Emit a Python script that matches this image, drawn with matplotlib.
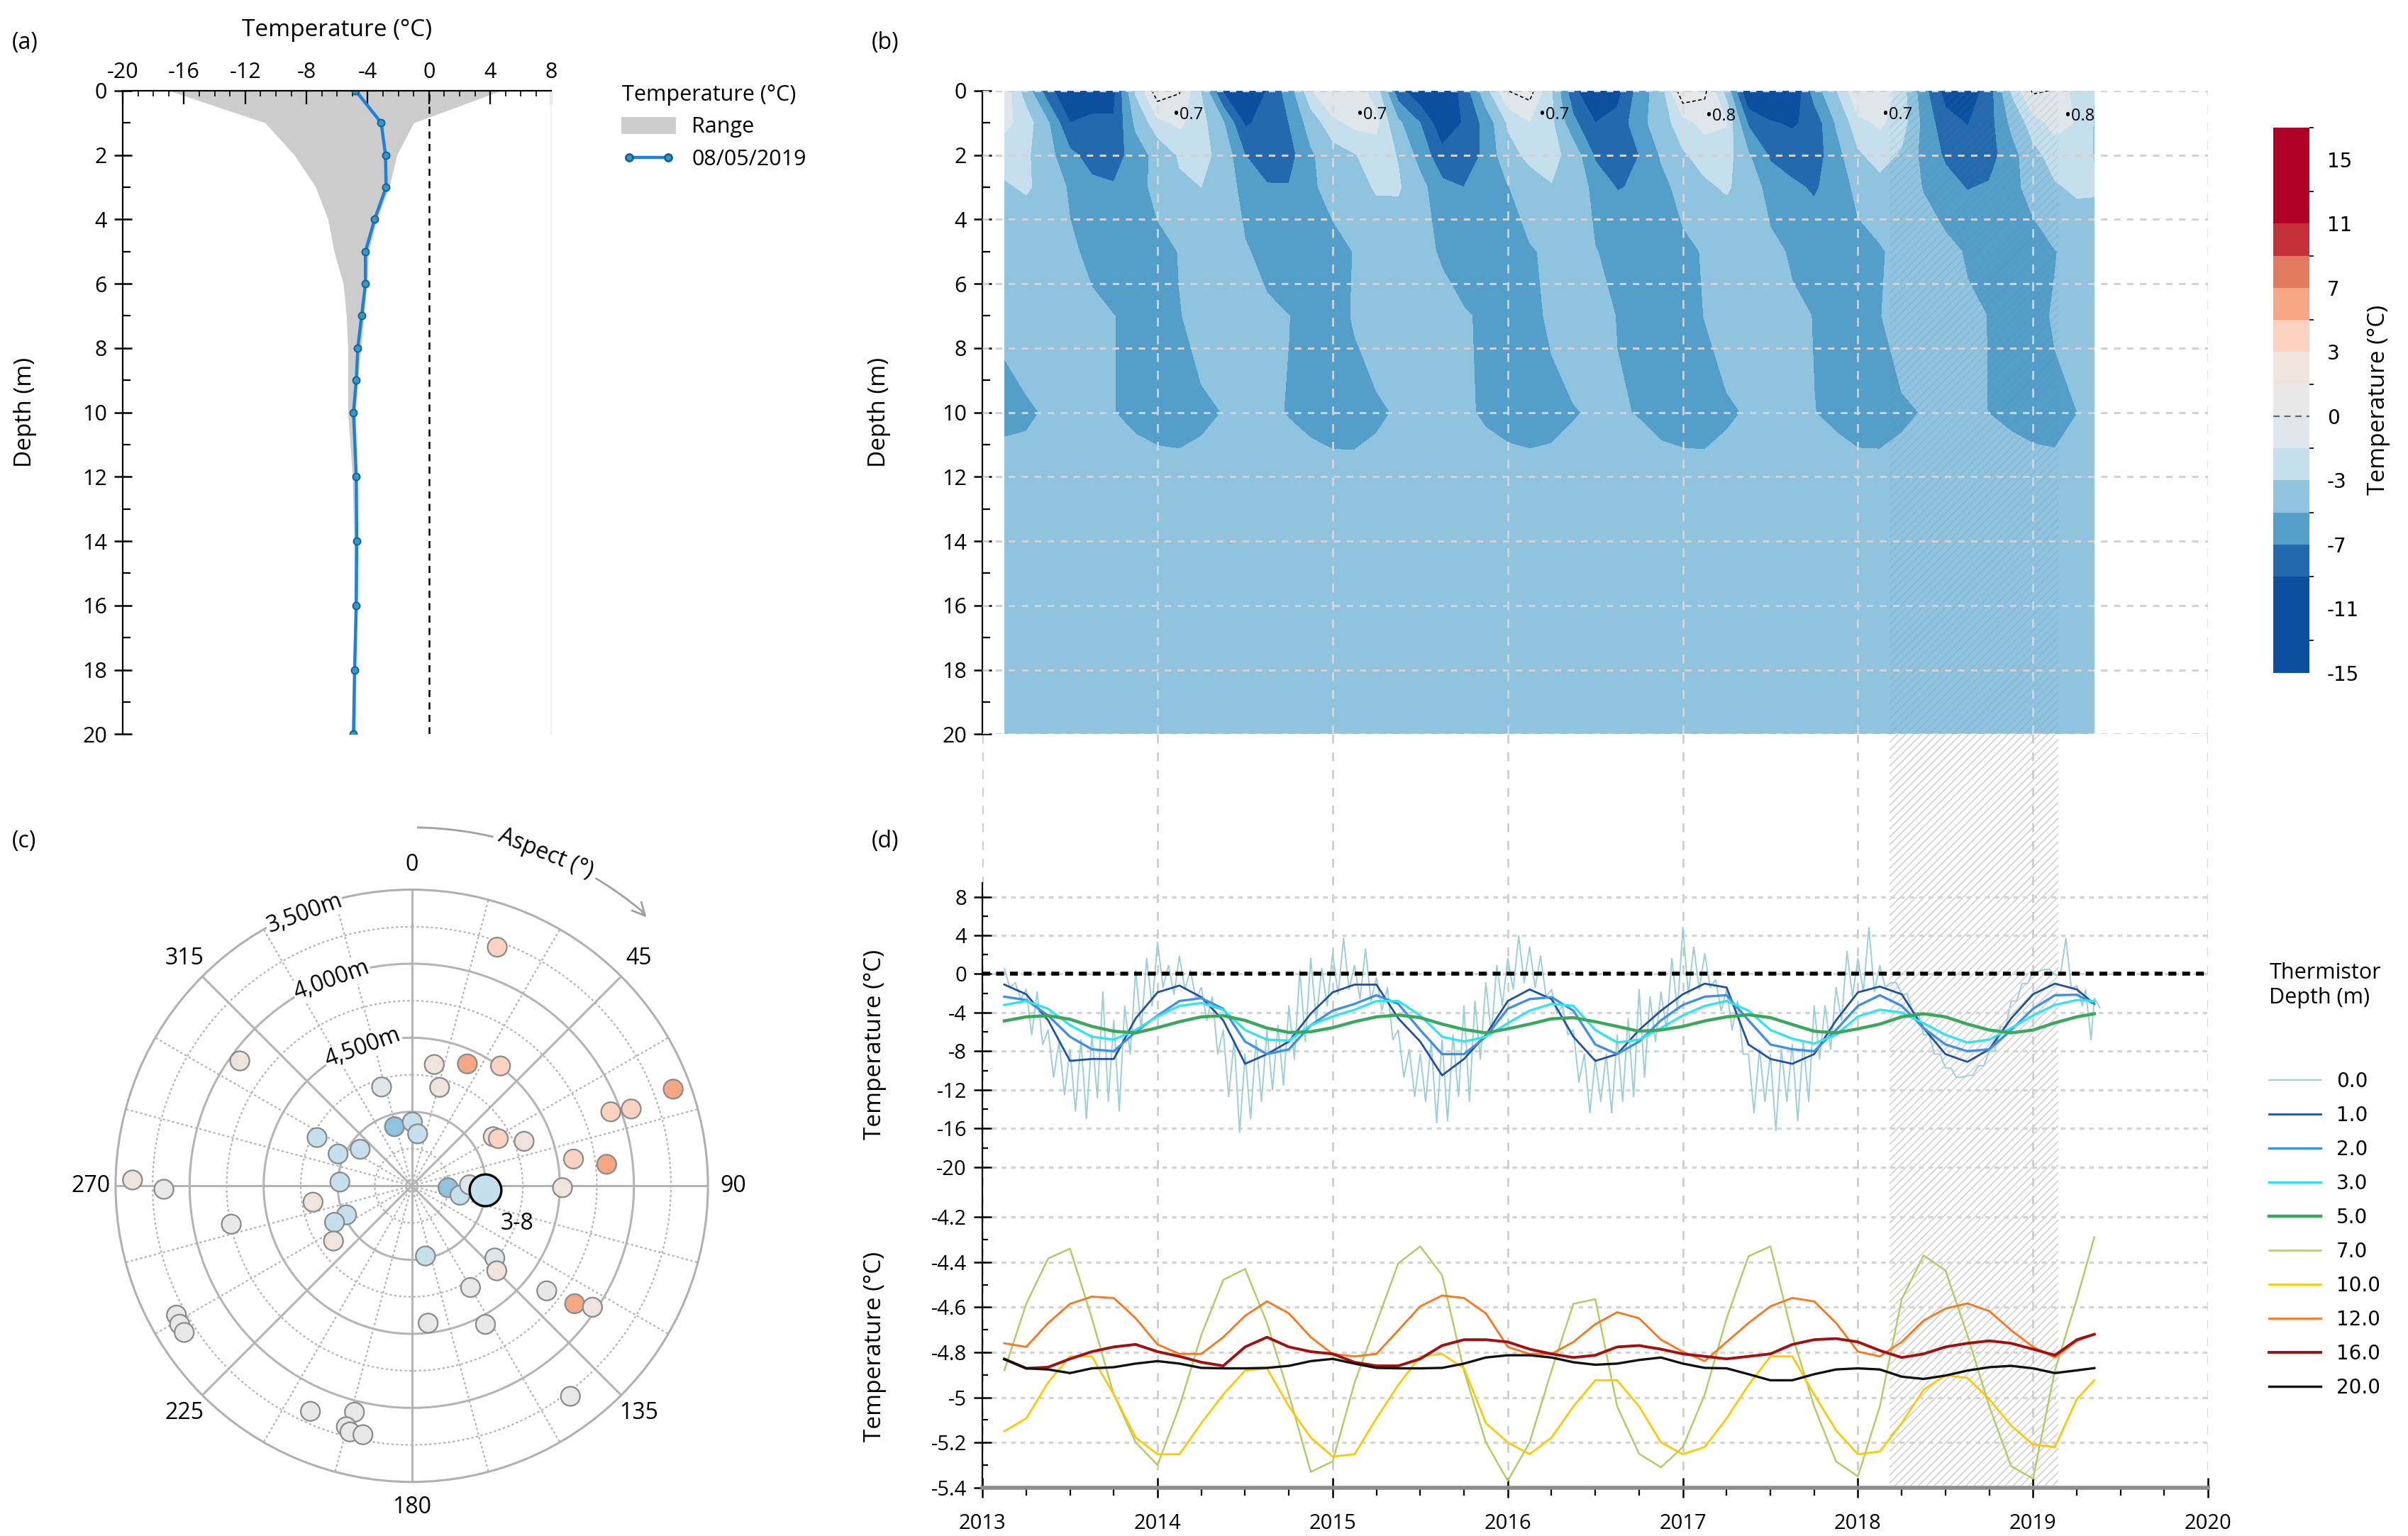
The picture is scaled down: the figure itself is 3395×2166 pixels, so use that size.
import numpy as np
import matplotlib.pyplot as plt
from matplotlib.colors import ListedColormap, BoundaryNorm
from matplotlib.cm import ScalarMappable
from matplotlib.patches import Patch
from matplotlib.lines import Line2D
from matplotlib.ticker import MultipleLocator, FuncFormatter

plt.rcParams.update({"font.family": ["Open Sans", "DejaVu Sans"], "font.size": 11,
                     "axes.unicode_minus": False, "hatch.linewidth": 0.6})

# ---------------- (a) depth profile ----------------
prof_depth = [0, 1, 2, 3, 4, 5, 6, 7, 8, 9, 10, 12, 14, 16, 18, 20]
range_min = [-17.0, -10.7, -8.8, -7.4, -6.6, -6.2, -5.6, -5.4, -5.3, -5.3, -5.3, -5.0, -4.9, -4.9, -4.9, -5.0]
range_max = [4.7, -1.0, -2.1, -2.6, -3.4, -3.95, -4.05, -4.25, -4.45, -4.65, -4.8, -4.7, -4.7, -4.7, -4.77, -4.8]
prof_0805 = [-4.79, -3.12, -2.84, -2.80, -3.55, -4.15, -4.15, -4.40, -4.65, -4.75, -4.93, -4.75, -4.72, -4.75, -4.86, -4.93]

# ---------------- thermistor time series ----------------
t8 = [2013.125, 2013.25, 2013.375, 2013.5, 2013.625, 2013.75, 2013.875,
      2014.0, 2014.125, 2014.25, 2014.375, 2014.5, 2014.625, 2014.75, 2014.875,
      2015.0, 2015.125, 2015.25, 2015.375, 2015.5, 2015.625, 2015.75, 2015.875,
      2016.0, 2016.125, 2016.25, 2016.375, 2016.5, 2016.625, 2016.75, 2016.875,
      2017.0, 2017.125, 2017.25, 2017.375, 2017.5, 2017.625, 2017.75, 2017.875,
      2018.0, 2018.125, 2018.25, 2018.375, 2018.5, 2018.625, 2018.75, 2018.875,
      2019.0, 2019.125, 2019.25, 2019.35]

# surface (0.0 m): upper / lower values of the noisy band, every 1/16 year
surf_hi = [0.6, -0.9, -1.6, -1.85, -5.8, -7.0, -7.8, -6.8, -6.3, -1.85, -4.8, -3.3, 0.4, 1.6,
           3.3, 0.9, 1.85, 0.4, -1.4, -2.35, -5.8, -6.8, -8.3, -6.8, -5.8, -5.3, -3.3, 0.4, 1.6, 0.6,
           2.1, 3.7, 0.9, 2.6, -0.4, -1.4, -5.8, -7.8, -8.3, -7.0, -6.8, -6.3, -3.3, -2.8, -0.9, 0.9,
           1.6, 3.95, 2.8, 1.85, -1.6, -3.3, -5.8, -8.3, -8.8, -8.3, -6.3, -4.6, -1.6, -2.35, -1.85, 1.6,
           4.8, 2.8, 2.1, -0.6, -1.6, -2.8, -8.3, -7.8, -8.3, -7.8, -7.3, -7.0, -3.3, -3.3, -1.4, 2.35,
           1.6, 4.8, 0.9, -0.9, -2.1, -4.0, -6.3, -8.3, -9.75, -10.7, -10.5, -9.5, -8.0, -5.5, -2.8, -1.0,
           0.25, 0.47, -0.1, 3.7, -1.2, -1.6, -2.5]
surf_lo = [-1.4, -2.6, -6.3, -7.3, -10.7, -12.5, -14.2, -15.0, -12.8, -13.2, -14.2, -8.3, -5.8, -3.3,
           -1.4, -2.1, -1.6, -2.6, -4.8, -8.3, -12.7, -16.4, -15.0, -13.2, -12.0, -11.5, -8.8, -7.0, -4.8, -3.3,
           -2.1, -1.6, -2.6, -2.8, -3.8, -6.8, -10.7, -12.7, -13.2, -15.4, -15.2, -12.7, -13.2, -8.8, -6.3, -3.3,
           -1.6, -0.9, -1.4, -2.35, -4.1, -6.3, -11.2, -14.4, -13.2, -14.4, -13.2, -12.7, -10.7, -7.0, -5.8, -3.8,
           -2.1, -1.6, -1.4, -3.8, -5.8, -8.3, -14.4, -13.2, -16.2, -13.2, -15.2, -13.2, -8.8, -7.8, -4.8, -2.35,
           -1.85, -1.85, -1.4, -0.9, -2.1, -4.0, -6.3, -8.3, -9.75, -10.7, -10.5, -9.5, -8.0, -5.5, -2.8, -1.0,
           0.25, 0.47, -0.1, -1.5, -3.3, -6.8, -3.5]

d1 = [-1.1, -2.1, -4.8, -9.0, -8.8, -8.8, -4.6, -1.9, -1.2, -2.4, -4.8, -9.3, -8.3, -7.0, -4.1,
      -1.9, -1.1, -1.1, -4.6, -7.0, -10.5, -8.8, -6.3, -2.8, -1.6, -2.6, -6.5, -9.0, -8.3, -5.8, -3.8,
      -2.1, -1.0, -1.4, -7.3, -8.8, -9.3, -8.3, -4.8, -1.9, -1.3, -2.1, -5.6, -8.3, -9.1, -7.8, -4.6,
      -2.1, -1.0, -1.6, -3.1]
d2 = [-2.35, -2.7, -4.3, -6.5, -7.8, -8.0, -6.0, -4.3, -2.8, -2.5, -3.6, -7.0, -8.3, -7.8, -5.3,
      -3.8, -3.1, -2.2, -3.1, -5.8, -8.3, -8.3, -6.5, -3.6, -2.6, -2.4, -3.8, -7.3, -8.3, -7.0, -4.8,
      -3.2, -2.35, -2.2, -4.8, -7.3, -7.8, -8.0, -5.8, -3.3, -2.2, -3.3, -5.6, -7.3, -8.0, -7.8, -5.8,
      -3.6, -2.2, -2.15, -3.1]
d3 = [-3.2, -2.8, -3.6, -5.3, -6.5, -6.8, -5.8, -4.4, -3.3, -3.0, -3.7, -5.8, -6.8, -6.9, -5.3,
      -4.4, -3.7, -2.8, -2.8, -4.3, -6.5, -7.0, -6.5, -5.1, -3.8, -3.1, -3.3, -5.8, -7.1, -6.8, -5.6,
      -4.3, -3.3, -2.8, -3.8, -5.8, -6.7, -7.2, -6.3, -4.4, -3.7, -4.0, -5.1, -6.3, -7.1, -6.8, -5.6,
      -4.3, -3.2, -2.7, -2.8]
d5 = [-4.86, -4.44, -4.32, -4.69, -5.43, -5.93, -6.1, -5.56, -4.94, -4.44, -4.32, -4.81, -5.6, -6.05, -5.98,
      -5.56, -4.94, -4.44, -4.25, -4.52, -5.19, -5.75, -6.1, -5.68, -5.19, -4.64, -4.52, -4.94, -5.43, -5.93, -5.8,
      -5.43, -4.86, -4.44, -4.22, -4.52, -5.23, -5.93, -6.1, -5.68, -5.19, -4.44, -4.12, -4.44, -5.19, -5.8, -6.1,
      -5.8, -5.06, -4.44, -4.12]
d7 = [-4.88, -4.585, -4.384, -4.34, -4.649, -4.987, -5.199, -5.3, -5.04, -4.723, -4.479, -4.43, -4.67, -4.987, -5.33,
      -5.284, -4.935, -4.67, -4.405, -4.33, -4.458, -4.881, -5.199, -5.37, -5.199, -4.881, -4.585, -4.564, -5.04, -5.25, -5.31,
      -5.22, -4.987, -4.649, -4.374, -4.33, -4.723, -5.04, -5.284, -5.35, -5.04, -4.564, -4.37, -4.437, -4.723, -5.04, -5.305,
      -5.36, -4.881, -4.564, -4.29]
d10 = [-5.15, -5.093, -4.934, -4.818, -4.818, -4.987, -5.178, -5.252, -5.252, -5.114, -4.987, -4.881, -4.871, -5.04, -5.178,
       -5.262, -5.252, -5.093, -4.945, -4.818, -4.807, -4.871, -5.114, -5.199, -5.252, -5.178, -5.04, -4.924, -4.924, -5.04, -5.199,
       -5.252, -5.22, -5.093, -4.945, -4.818, -4.818, -4.987, -5.146, -5.252, -5.24, -5.114, -4.966, -4.902, -4.913, -5.008, -5.125,
       -5.209, -5.22, -5.008, -4.924]
d12 = [-4.76, -4.776, -4.67, -4.585, -4.553, -4.559, -4.649, -4.765, -4.807, -4.807, -4.733, -4.638, -4.574, -4.627, -4.733,
       -4.807, -4.818, -4.807, -4.702, -4.596, -4.548, -4.559, -4.627, -4.776, -4.807, -4.807, -4.754, -4.675, -4.622, -4.649, -4.744,
       -4.797, -4.839, -4.754, -4.67, -4.596, -4.559, -4.574, -4.67, -4.797, -4.818, -4.754, -4.659, -4.606, -4.583, -4.617, -4.702,
       -4.776, -4.823, -4.75, -4.72]
d16 = [-4.83, -4.871, -4.866, -4.829, -4.797, -4.776, -4.765, -4.797, -4.818, -4.844, -4.86, -4.776, -4.733, -4.776, -4.797,
       -4.807, -4.844, -4.86, -4.86, -4.829, -4.77, -4.744, -4.744, -4.754, -4.786, -4.807, -4.823, -4.813, -4.776, -4.77, -4.786,
       -4.807, -4.818, -4.829, -4.818, -4.807, -4.765, -4.744, -4.739, -4.754, -4.792, -4.823, -4.807, -4.776, -4.76, -4.749, -4.76,
       -4.786, -4.813, -4.744, -4.72]
d20 = [-4.83, -4.871, -4.876, -4.892, -4.871, -4.866, -4.85, -4.839, -4.85, -4.869, -4.871, -4.871, -4.869, -4.86, -4.839,
       -4.829, -4.85, -4.869, -4.871, -4.871, -4.869, -4.85, -4.823, -4.813, -4.813, -4.823, -4.844, -4.855, -4.85, -4.834, -4.823,
       -4.85, -4.869, -4.871, -4.897, -4.924, -4.924, -4.897, -4.876, -4.871, -4.876, -4.908, -4.918, -4.903, -4.881, -4.866, -4.86,
       -4.871, -4.892, -4.88, -4.87]

therm_depths = [0, 1, 2, 3, 5, 7, 10, 12, 16, 20]
therm_labels = ["0.0", "1.0", "2.0", "3.0", "5.0", "7.0", "10.0", "12.0", "16.0", "20.0"]
therm_colors = ["#9ccfd2", "#1f4fa8", "#3e8fe6", "#2fe3f0", "#3aa85a",
                "#b2cc66", "#ffc800", "#ff7417", "#a30f0f", "#111111"]
gap_start, gap_end = 2018.18, 2019.146

# ---------------- (c) sites ----------------
pt_aspect = [19.7, 306, 10.5, 24.5, 36.5, 343, 15.8, 69.7, 70.7, 69.6, 343.7, 0.5, 6.4, 297, 293.4, 305.3,
             58.9, 61.4, 68.4, 80.6, 83.7, 90.7, 271.2, 269.2, 273, 260.6, 258, 246, 244.7, 234.8, 92.9, 101, 89,
             169, 131, 135, 150, 127.9, 125.9, 123.9, 173.2, 152, 143, 241.2, 239.2, 237.2,
             204.2, 194.2, 195.2, 194.1, 191.1]
pt_elev = [3788, 4065, 4667, 4595, 4493, 4802, 4809, 3618, 3930, 4066, 5084, 5069, 5147, 4782, 4958, 5073,
           4858, 4834, 4684, 4393, 4176, 4482, 3614, 3826, 5014, 4824, 4254, 5018, 4923, 4853, 5255, 5168, 5110,
           5017, 4757, 4688, 4707, 4345, 4142, 4030, 4566, 4440, 3720, 3687, 3675, 3672,
           3830, 3923, 3814, 3786, 3787]
pt_temp = [4, 2, 2, 5.5, 4, -0.7, 2, 6, 4, 4, -4, -2, -2, -2, -2, -2,
           2, 4, 2, 4, 6, 2, 2, 0.7, -2, 2, 0.7, -2, -2, 2, -4, -2, -0.7,
           -2, -0.7, 2, 0.7, 0.7, 6, 2, 0.7, 0.7, 0.7, 0.7, 0.7, 0.7,
           0.7, 0.7, 0.7, 0.7, 0.7]
bh_aspect, bh_elev, bh_temp = 93.3, 5003, -2

# colour scale
bounds = [-15, -13, -11, -9, -7, -5, -3, -1.5, 0, 1.5, 3, 5, 7, 9, 11, 13, 15, 17]
band_colors = ["#0b4f9e", "#0b4f9e", "#0b4f9e", "#2469ad", "#549fca", "#90c3de", "#c5dfec", "#dfe6eb",
               "#e8e8e8", "#efe3de", "#fad2bf", "#f4a782", "#e07b60", "#c3303a", "#b00026", "#b00026", "#b00026"]
cmap = ListedColormap(band_colors)
norm = BoundaryNorm(bounds, cmap.N)

fig = plt.figure(figsize=(16.975, 10.83), dpi=200)

# ======== (a) ========
ax = fig.add_axes([0.051, 0.522, 0.178, 0.419])
ax.fill_betweenx(prof_depth, range_min, range_max, color="#cccccc", lw=0)
ax.plot(prof_0805, prof_depth, "-o", color="#1b7fe3", lw=1.6, ms=3.6, mfc="#2a9bd0", mec="#1d5f8c", mew=0.7)
ax.axvline(0, color="k", lw=0.9, ls=(0, (4, 3)))
ax.set_xlim(-20, 8)
ax.set_ylim(20, 0)
ax.xaxis.tick_top()
ax.xaxis.set_label_position("top")
ax.set_xticks(np.arange(-20, 9, 4))
ax.xaxis.set_minor_locator(MultipleLocator(1))
ax.set_yticks(np.arange(0, 21, 2))
ax.yaxis.set_minor_locator(MultipleLocator(1))
ax.tick_params(axis="x", which="major", direction="in", length=7, width=0.8, pad=4, labelsize=11)
ax.tick_params(axis="x", which="minor", direction="in", length=3, width=0.6)
ax.tick_params(axis="y", which="major", direction="inout", length=9, width=0.9, labelsize=11)
ax.tick_params(axis="y", which="minor", direction="in", length=4, width=0.8)
ax.spines["bottom"].set_visible(False)
ax.spines["right"].set_color("#eeeeee")
ax.set_xlabel("Temperature (°C)", fontsize=12, labelpad=13)
ax.set_ylabel("Depth (m)", fontsize=12)
ax.yaxis.set_label_coords(-0.2, 0.5)
h_a = [Patch(color="#cccccc", label="Range"),
       Line2D([], [], color="#1b7fe3", lw=1.6, marker="o", ms=3.6, mfc="#2a9bd0", mec="#1d5f8c",
              label="08/05/2019")]
ax.legend(handles=h_a, loc="upper left", bbox_to_anchor=(1.12, 1.04), frameon=False, numpoints=2,
          title="Temperature (°C)", alignment="left", handlelength=2.4, fontsize=11, title_fontsize=11)

# ======== background for (b)/(d) : year lines + gap hatch ========
axbg = fig.add_axes([0.408, 0.0315, 0.509, 0.9095], zorder=-1)
axbg.set_xlim(2013, 2020)
axbg.set_ylim(0, 1)
axbg.axis("off")
for yr in range(2013, 2021):
    axbg.axvline(yr, color="#c8c8c8", lw=0.9, ls=(0, (5, 5)))
axbg.axvspan(gap_start, gap_end, facecolor="none", edgecolor="#d0d0d0", hatch="//////", lw=0)

# ======== (b) contour ========
axb = fig.add_axes([0.408, 0.522, 0.509, 0.419])
surf_mid = 0.5 * (np.array(surf_hi) + np.array(surf_lo))[::2]
Z = np.vstack([surf_mid, d1, d2, d3, d5, d7, d10, d12, d16, d20])
T, D = np.meshgrid(t8, therm_depths)
axb.contourf(T, D, Z, levels=bounds, cmap=cmap, norm=norm, extend="both")
axb.contour(T, D, Z, levels=[0], colors="k", linestyles=[(0, (3, 2))], linewidths=0.6)
for yr in range(2014, 2021):
    axb.axvline(yr, color="#d9d9d9", lw=0.9, ls=(0, (5, 5)), zorder=3)
for dd in range(0, 21, 2):
    axb.axhline(dd, color="#d2d2d2", lw=1.1, ls=(0, (3, 3)), zorder=3)
axb.axvspan(gap_start, gap_end, facecolor="none", edgecolor="#5d7f99", alpha=0.16, hatch="//////", lw=0, zorder=2)
for xl, yl, tl in [(2014.09, 0.75, "0.7"), (2015.14, 0.75, "0.7"), (2016.18, 0.75, "0.7"),
                   (2017.13, 0.8, "0.8"), (2018.14, 0.75, "0.7"), (2019.18, 0.8, "0.8")]:
    axb.text(xl, yl, "•" + tl, fontsize=8.5, ha="left", va="center", zorder=4)
axb.set_xlim(2013, 2020)
axb.set_ylim(20, 0)
axb.set_xticks([])
axb.set_yticks(np.arange(0, 21, 2))
axb.yaxis.set_minor_locator(MultipleLocator(1))
axb.tick_params(axis="y", which="major", direction="inout", length=9, width=0.9, labelsize=11)
axb.tick_params(axis="y", which="minor", direction="in", length=4, width=0.8)
for s in ["top", "right", "bottom"]:
    axb.spines[s].set_visible(False)
axb.set_ylabel("Depth (m)", fontsize=12)
axb.yaxis.set_label_coords(-0.075, 0.5)

# colorbar
cax = fig.add_axes([0.944, 0.562, 0.015, 0.355])
cb = fig.colorbar(ScalarMappable(norm=norm, cmap=cmap), cax=cax, spacing="uniform",
                  ticks=[-15, -11, -7, -3, 0, 3, 7, 11, 15])
cb.outline.set_visible(False)
cb.ax.tick_params(length=0, pad=9)
for lab in cb.ax.get_yticklabels():
    lab.set_fontfamily("DejaVu Sans")
    lab.set_fontsize(10)
cb.ax.axhline(0, color="#666666", lw=0.8, ls=(0, (4, 3)))
cb.set_label("Temperature (°C)", fontsize=12, labelpad=4)

# ======== (d) time series ========
t8a = np.array(t8)
t16 = np.append(np.ravel(np.column_stack([t8a[:-1], 0.5 * (t8a[:-1] + t8a[1:])])), t8a[-1])
zig_t = np.ravel(np.column_stack([t16, t16 + 1 / 32.0]))
zig_v = np.ravel(np.column_stack([surf_hi, surf_lo]))

ax1 = fig.add_axes([0.408, 0.215, 0.509, 0.21])
ax1.set_facecolor("none")
lines = []
lines += ax1.plot(zig_t, zig_v, color=therm_colors[0], lw=0.7)
for ser, c, lw in [(d1, therm_colors[1], 1.0), (d2, therm_colors[2], 1.2),
                   (d3, therm_colors[3], 1.2), (d5, therm_colors[4], 1.6)]:
    lines += ax1.plot(t8, ser, color=c, lw=lw)
ax1.axhline(0, color="k", lw=2.0, ls=(0, (2, 1.5)), zorder=3)
ax1.set_xlim(2013, 2020)
ax1.set_ylim(-24, 9.4)
ax1.set_yticks(np.arange(-20, 9, 4))
ax1.set_yticks(np.arange(-18, 7, 4), minor=True)
ax1.set_xticks([])
ax1.grid(axis="y", color="#d4d4d4", lw=1.2, ls=(0, (2, 2)))
ax1.tick_params(axis="y", which="major", direction="inout", length=9, width=0.9, labelsize=10.5)
ax1.tick_params(axis="y", which="minor", direction="in", length=3, width=0.8)
for s in ["top", "right", "bottom"]:
    ax1.spines[s].set_visible(False)
ax1.set_ylabel("Temperature (°C)", fontsize=12)
ax1.yaxis.set_label_coords(-0.078, 0.5)

ax2 = fig.add_axes([0.408, 0.0315, 0.509, 0.1835])
ax2.set_facecolor("none")
for ser, c, lw in [(d7, therm_colors[5], 0.9), (d10, therm_colors[6], 1.0), (d12, therm_colors[7], 1.0),
                   (d16, therm_colors[8], 1.4), (d20, therm_colors[9], 1.2)]:
    lines += ax2.plot(t8, ser, color=c, lw=lw)
ax2.set_xlim(2013, 2020)
ax2.set_ylim(-5.4, -4.15)
ax2.set_yticks([-5.4, -5.2, -5.0, -4.8, -4.6, -4.4, -4.2])
ax2.set_yticks([-5.3, -5.1, -4.9, -4.7, -4.5, -4.3], minor=True)
ax2.yaxis.set_major_formatter(FuncFormatter(lambda v, p: "%g" % round(v, 1)))
ax2.set_xticks(range(2013, 2021))
ax2.xaxis.set_minor_locator(MultipleLocator(0.25))
ax2.grid(axis="y", color="#d4d4d4", lw=1.2, ls=(0, (2, 2)))
ax2.tick_params(axis="y", which="major", direction="inout", length=9, width=0.9, labelsize=10.5)
ax2.tick_params(axis="y", which="minor", direction="in", length=3, width=0.8)
ax2.tick_params(axis="x", which="major", direction="inout", length=10, width=0.9, pad=8, labelsize=10.5)
ax2.tick_params(axis="x", which="minor", direction="out", length=4, width=0.8)
ax2.spines["top"].set_visible(False)
ax2.spines["right"].set_visible(False)
ax2.spines["bottom"].set_color("#8c8c8c")
ax2.spines["bottom"].set_linewidth(2)
ax2.set_ylabel("Temperature (°C)", fontsize=12)
ax2.yaxis.set_label_coords(-0.078, 0.5)

fig.legend(lines, therm_labels, loc="upper left", bbox_to_anchor=(0.935, 0.385), frameon=False,
           title="Thermistor\nDepth (m)\n\n", alignment="left", handlelength=2.6, handletextpad=0.8,
           labelspacing=0.72, prop={"family": "DejaVu Sans", "size": 10}, title_fontsize=11)

# ======== (c) polar ========
axc = fig.add_axes([0.048, 0.035, 0.246, 0.386], projection="polar")
axc.set_theta_zero_location("N")
axc.set_theta_direction(-1)
axc.set_ylim(0, 2000)
axc.grid(False)
axc.set_xticks([])
axc.set_yticks([])
axc.spines["polar"].set_color("#b0b0b0")
axc.spines["polar"].set_linewidth(1.1)
circ = np.linspace(0, 2 * np.pi, 361)
for k in range(1, 8):
    if k % 2 == 0:
        axc.plot(circ, np.full_like(circ, 250 * k), color="#b4b4b4", lw=1.1, zorder=1)
    else:
        axc.plot(circ, np.full_like(circ, 250 * k), color="#b4b4b4", lw=0.8, ls=(0, (1.5, 1.5)), zorder=1)
for ang in range(0, 360, 15):
    th = np.deg2rad(ang)
    if ang % 45 == 0:
        axc.plot([th, th], [0, 2000], color="#b4b4b4", lw=1.1, zorder=1)
    else:
        axc.plot([th, th], [0, 2000], color="#b4b4b4", lw=0.8, ls=(0, (1.5, 1.5)), zorder=1)
axc.scatter(np.deg2rad(pt_aspect), 5500 - np.array(pt_elev), c=pt_temp, cmap=cmap, norm=norm,
            s=95, edgecolors="#8a8a8a", linewidths=0.8, zorder=3)
axc.scatter([np.deg2rad(bh_aspect)], [5500 - bh_elev], c=[bh_temp], cmap=cmap, norm=norm,
            s=260, edgecolors="black", linewidths=1.2, zorder=4)
axc.annotate("3-8", xy=(np.deg2rad(bh_aspect), 5500 - bh_elev), xytext=(16, -17),
             textcoords="offset points", fontsize=11.5, ha="center", va="center")
for ang in range(0, 360, 45):
    axc.text(np.deg2rad(ang), 2170, str(ang), ha="center", va="center", fontsize=11.5)
for ang, rr, lab in [(-21.5, 1975, "3,500m"), (-21.3, 1490, "4,000m"), (-19.5, 990, "4,500m")]:
    axc.text(np.deg2rad(ang), rr, lab, rotation=20, ha="center", va="center", fontsize=11.5,
             bbox=dict(facecolor="white", edgecolor="none", pad=0.5), zorder=5)
arc1 = np.deg2rad(np.linspace(1, 13, 30))
arc2 = np.deg2rad(np.linspace(31, 40, 30))
axc.plot(arc1, np.full_like(arc1, 2420), color="#a0a0a0", lw=1, clip_on=False)
axc.plot(arc2, np.full_like(arc2, 2420), color="#a0a0a0", lw=1, clip_on=False)
axc.annotate("", xy=(np.deg2rad(41.8), 2405), xytext=(np.deg2rad(39.5), 2418),
             arrowprops=dict(arrowstyle="->", color="#a0a0a0", lw=1, mutation_scale=16),
             annotation_clip=False)
axc.text(np.deg2rad(22), 2420, "Aspect (°)", rotation=-22, ha="center", va="center", fontsize=11.5)

# panel letters
fig.text(0.005, 0.972, "(a)", fontsize=11.5, va="center")
fig.text(0.362, 0.972, "(b)", fontsize=11.5, va="center")
fig.text(0.005, 0.452, "(c)", fontsize=11.5, va="center")
fig.text(0.362, 0.452, "(d)", fontsize=11.5, va="center")

fig.savefig("out.png", dpi=200, facecolor="white")
